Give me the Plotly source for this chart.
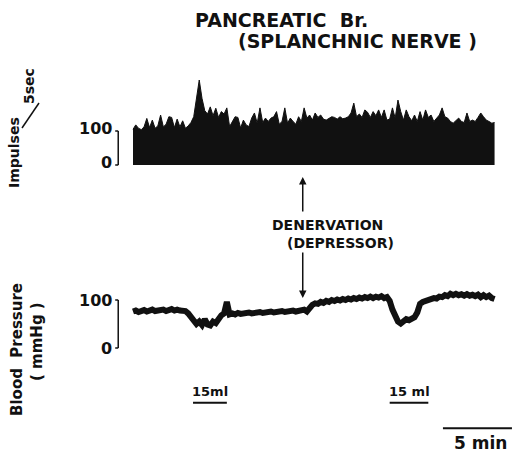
import numpy as np
import plotly.graph_objects as go

# ---------------- data ----------------
STEP_MIN = 0.2  # sampling step of the read-off traces (minutes)

impulses = [
    105, 118, 108, 104, 112, 137, 110, 132, 108, 115, 147, 112, 120, 142, 140, 110, 135, 112, 130, 108,
    115, 125, 142, 196, 250, 196, 160, 150, 171, 145, 167, 140, 157,
    150, 168, 113, 130, 142, 140, 109, 132, 118, 113, 138, 153, 123, 168, 125, 138, 128, 138, 142, 157,
    120, 128, 168, 123, 138, 128, 120, 142, 128, 168, 138,
    147, 132, 153, 140, 147, 135, 132, 138, 142, 140, 135, 142, 136, 138, 142, 153, 182, 142, 150, 140,
    162, 155, 140, 157, 145, 162, 140, 162, 132, 135, 168, 138, 191,
    157, 132, 162, 142, 130, 147, 128, 157, 132, 162, 140, 147, 128, 138, 147, 168, 142, 138, 128, 123,
    130, 138, 128, 125, 153, 128, 132, 128, 140, 153, 142, 132, 128, 123, 125,
]

blood_pressure = [
    76, 78, 75, 77, 79, 76, 78, 80, 77, 79,
    78, 80, 77, 79, 81, 78, 80, 78, 79, 77,
    72, 64, 56, 50, 55, 48, 60, 49, 47, 55,
    52, 62, 68, 72, 96, 70, 72, 70, 73, 71,
    73, 72, 74, 72, 74, 73, 75, 73, 75, 74,
    76, 74, 76, 75, 77, 75, 77, 76, 78, 76,
    78, 77, 80, 76, 86, 90, 93, 92, 96, 94,
    98, 96, 100, 98, 101, 99, 102, 100, 103, 101,
    104, 102, 105, 103, 106, 104, 107, 104, 107, 105,
    108, 104, 106, 98, 80, 64, 55, 51, 57, 60,
    58, 60, 64, 74, 92, 96, 98, 101, 100, 104,
    103, 107, 106, 110, 108, 113, 110, 113, 110, 112,
    109, 112, 109, 111, 108, 111, 106, 110, 106, 109,
    104, 102,
]

scale_ticks = [0, 100]
scale_labels = ["0", "100"]
infusion_start = [4.35, 18.6]
infusion_end = [6.8, 21.4]
infusion_labels = ["15ml", "15 ml"]
denervation_time = 12.3
timebar_start, timebar_len = 22.46, 5.0

t_imp = np.arange(len(impulses)) * STEP_MIN
t_bp = np.arange(len(blood_pressure)) * STEP_MIN

# ---------------- figure ----------------
W, H = 516, 456
FONT = "DejaVu Sans"
INK = "#111111"

fig = go.Figure()
fig.add_trace(go.Scatter(x=t_imp, y=impulses, mode="lines", fill="tozeroy",
                         fillcolor=INK, line=dict(color=INK, width=1),
                         yaxis="y", hoverinfo="skip"))
fig.add_trace(go.Scatter(x=t_bp, y=blood_pressure, mode="lines",
                         line=dict(color=INK, width=6),
                         yaxis="y2", hoverinfo="skip"))

def px2paper(x, y):
    return x / W, 1 - y / H

ann = []
def text(x, y, s, size, angle=0, xanchor="center"):
    px, py = px2paper(x, y)
    ann.append(dict(x=px, y=py, xref="paper", yref="paper", text=s, showarrow=False,
                    textangle=angle, xanchor=xanchor, yanchor="middle",
                    font=dict(family=FONT, size=size, color=INK, weight="bold")))

text(281, 20, "PANCREATIC  Br.", 19)
text(357, 41, "(SPLANCHNIC NERVE )", 19)
text(327, 225, "DENERVATION", 14)
text(340, 243, "(DEPRESSOR)", 14)
text(14, 153, "Impulses", 14, angle=-90)
text(29, 86, "5sec", 14, angle=-90)
text(17, 350, "Blood  Pressure", 15, angle=-90)
text(37, 342, "( mmHg )", 15, angle=-90)
text(480, 443, "5 min", 17)

shapes = []
# scale brackets on both panels
bracket_t = -1.07
for yref in ["y", "y2"]:
    shapes.append(dict(type="line", xref="x", yref=yref, x0=bracket_t, x1=bracket_t,
                       y0=scale_ticks[0], y1=scale_ticks[1], line=dict(color=INK, width=1.5)))
    for v, lab in zip(scale_ticks, scale_labels):
        shapes.append(dict(type="line", xref="x", yref=yref, x0=bracket_t - 0.22, x1=bracket_t,
                           y0=v, y1=v, line=dict(color=INK, width=1.5)))
        ann.append(dict(x=bracket_t - 0.3, y=v, xref="x", yref=yref, text=lab, showarrow=False,
                        xanchor="right", yanchor="middle", yshift=(3 if yref == "y" else 0),
                        font=dict(family=FONT, size=16, color=INK, weight="bold")))

# infusion markers
for s, e, lab in zip(infusion_start, infusion_end, infusion_labels):
    shapes.append(dict(type="line", xref="x", yref="y2", x0=s, x1=e, y0=-114, y1=-114,
                       line=dict(color=INK, width=2)))
    ann.append(dict(x=(s + e) / 2, y=-114, xref="x", yref="y2", text=lab, showarrow=False,
                    yanchor="bottom", yshift=2,
                    font=dict(family=FONT, size=13, color=INK, weight="bold")))

# 5 min time bar
shapes.append(dict(type="line", xref="x", yref="y2", x0=timebar_start, x1=timebar_start + timebar_len,
                   y0=-167, y1=-167, line=dict(color=INK, width=2)))

# slash in "Impulses/5sec"
p0 = px2paper(22, 128)
p1 = px2paper(39, 103)
shapes.append(dict(type="line", xref="paper", yref="paper", x0=p0[0], y0=p0[1], x1=p1[0], y1=p1[1],
                   line=dict(color=INK, width=1.5)))

# denervation arrows
ann.append(dict(x=denervation_time, y=356, xref="x", yref="y2", text="", showarrow=True,
                ax=0, ay=36, arrowhead=2, arrowsize=1, arrowwidth=1.5, arrowcolor=INK, standoff=0))
ann.append(dict(x=denervation_time, y=104, xref="x", yref="y2", text="", showarrow=True,
                ax=0, ay=-47, arrowhead=2, arrowsize=1, arrowwidth=1.5, arrowcolor=INK, standoff=0))

x_range = [-133 / 13.8, (W - 133) / 13.8]
fig.update_layout(
    width=W, height=H, margin=dict(l=0, r=0, t=0, b=0, pad=0),
    paper_bgcolor="white", plot_bgcolor="white", showlegend=False,
    xaxis=dict(range=x_range, visible=False, domain=[0, 1]),
    yaxis=dict(range=[(165 - H) / 0.34, 165 / 0.34], visible=False, domain=[0, 1]),
    yaxis2=dict(range=[(348 - H) / 0.48, 348 / 0.48], visible=False, overlaying="y"),
    shapes=shapes, annotations=ann,
)
fig.write_html("out.html")
